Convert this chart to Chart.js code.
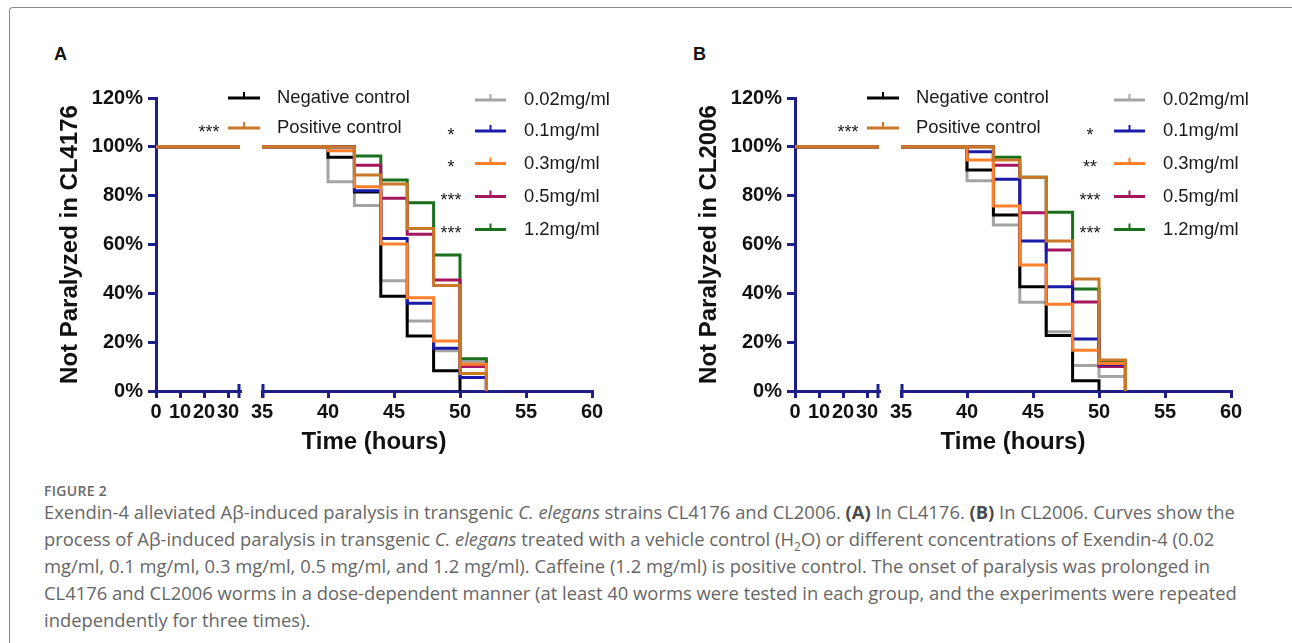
<!DOCTYPE html>
<html>
<head>
<meta charset="utf-8">
<script src="https://cdn.jsdelivr.net/npm/chart.js@4.4.1/dist/chart.umd.min.js"></script>
<style>
  html, body { margin: 0; padding: 0; background: #fff; }
  body { width: 1292px; height: 643px; position: relative; overflow: hidden; font-family: "Liberation Sans", Arial, sans-serif; }
  .frame { position: absolute; left: 9px; top: 7px; width: 1400px; height: 800px; border-left: 1.5px solid #8a8a8a; border-top: 1.5px solid #8a8a8a; border-top-left-radius: 4px; }
  .letter { position: absolute; font: bold 18px "Liberation Sans", Arial, sans-serif; color: #111; line-height: 18px; }
  canvas { position: absolute; }
  .fig { position: absolute; left: 44px; top: 482px; font: 600 14px "Open Sans", sans-serif; color: #6a6a6a; letter-spacing: 0.3px; line-height: 18px; }
  .cap { position: absolute; left: 44px; top: 498px; font: 400 18.4px "Open Sans", sans-serif; color: #666; line-height: 27px; white-space: nowrap; }
  .cap b { font-weight: 700; color: #4a4a4a; }
  .cap sub { font-size: 12px; line-height: 0; }
</style>
</head>
<body>
<div class="frame"></div>
<div class="letter" style="left:54px; top:45px;">A</div>
<div class="letter" style="left:693px; top:45px;">B</div>
<canvas id="cA" width="640" height="400" style="left:0px; top:60px;"></canvas>
<canvas id="cB" width="640" height="400" style="left:639px; top:60px;"></canvas>
<div class="fig">FIGURE 2</div>
<div class="cap">
<div>Exendin-4 alleviated Aβ-induced paralysis in transgenic <i>C. elegans</i> strains CL4176 and CL2006. <b>(A)</b> In CL4176. <b>(B)</b> In CL2006. Curves show the</div>
<div>process of Aβ-induced paralysis in transgenic <i>C. elegans</i> treated with a vehicle control (H<sub>2</sub>O) or different concentrations of Exendin-4 (0.02</div>
<div>mg/ml, 0.1 mg/ml, 0.3 mg/ml, 0.5 mg/ml, and 1.2 mg/ml). Caffeine (1.2 mg/ml) is positive control. The onset of paralysis was prolonged in</div>
<div>CL4176 and CL2006 worms in a dose-dependent manner (at least 40 worms were tested in each group, and the experiments were repeated</div>
<div>independently for three times).</div>
</div>
<script>
// ---------------- DATA ----------------
const seriesNames = ['Negative control', 'Positive control', '0.02mg/ml', '0.1mg/ml', '0.3mg/ml', '0.5mg/ml', '1.2mg/ml'];
const sigA = ['', '***', '', '*', '*', '***', '***'];
const sigB = ['', '***', '', '*', '**', '***', '***'];

// observation times (hours) where the curves step
const stepTimes = [40, 42, 44, 46, 48, 50, 52];
const startLevel = 100;           // % not paralyzed before the first event

// axis break: first segment 0–35 h, second segment 35–60 h
const seg1Range = [0, 35];
const seg2Range = [35, 60];
const seg1Ticks = [0, 10, 20, 30];
const seg2Ticks = [35, 40, 45, 50, 55, 60];
const yTicks = [0, 20, 40, 60, 80, 100, 120];
const yRange = [0, 120];

// Panel A (CL4176): % not paralyzed from each step time onwards
const A_neg  = [95.7, 81.5, 38.8, 22.5, 8.3, 0];
const A_pos  = [100, 88.5, 84.8, 66.6, 43.2, 7.2, 0];
const A_002  = [85.7, 76.0, 45.2, 28.7, 16.5, 12.0, 0];
const A_01   = [100, 82.0, 62.5, 35.9, 17.5, 5.5, 0];
const A_03   = [98.4, 83.7, 60.2, 38.2, 20.5, 11.0, 0];
const A_05   = [100, 92.5, 78.9, 64.2, 45.5, 10.0, 0];
const A_12   = [100, 96.2, 86.4, 77.1, 55.7, 13.2, 0];

// Panel B (CL2006)
const B_neg  = [90.5, 72.1, 42.7, 22.7, 4.2, 0];
const B_pos  = [100, 94.6, 87.5, 61.4, 45.9, 12.7, 0];
const B_002  = [86.1, 68.0, 36.3, 24.3, 10.4, 5.9, 0];
const B_01   = [98.0, 86.7, 61.4, 42.7, 21.3, 11.0, 0];
const B_03   = [94.6, 75.8, 51.6, 35.5, 16.7, 11.3, 0];
const B_05   = [100, 92.5, 73.0, 57.7, 36.4, 10.0, 0];
const B_12   = [100, 95.7, 87.5, 73.2, 41.8, 12.0, 0];

// ---------------- STYLE ----------------
const NAVY = '#1e1e88';
const seriesColors = ['#000000', '#c97828', '#a4a4a4', '#1a1aa8', '#ff7f2a', '#a3155e', '#1b6e1b'];
const drawOrder = [5, 0, 6, 2, 1, 3, 4];
const tickFont = { family: '"Liberation Sans", Arial, sans-serif', weight: 'bold', size: 20 };
const titleFont = { family: '"Liberation Sans", Arial, sans-serif', weight: 'bold', size: 24 };
const legendLayout = {
  left:  { stars: 209, m0: 228, m1: 260, text: 277, rows: [38, 68] },
  right: { stars: 451, m0: 475, m1: 506, text: 524, rows: [40, 71, 103.5, 136.5, 169.5] }
};

const breakCaps = {
  id: 'breakCaps',
  afterDraw(chart) {
    const { ctx, chartArea, scales } = chart;
    const yb = chartArea.bottom;
    ctx.save();
    ctx.strokeStyle = NAVY;
    ctx.lineWidth = 3;
    [scales.x0.right - 1, scales.x1.left + 1].forEach(x => {
      ctx.beginPath(); ctx.moveTo(x, yb - 7); ctx.lineTo(x, yb + 7); ctx.stroke();
    });
    ctx.restore();
  }
};

const kmLegend = {
  id: 'kmLegend',
  afterDraw(chart, args, opts) {
    const ctx = chart.ctx;
    ctx.save();
    seriesNames.forEach((name, i) => {
      const col = i < 2 ? legendLayout.left : legendLayout.right;
      const y = col.rows[i < 2 ? i : i - 2];
      const color = seriesColors[i];
      ctx.strokeStyle = color;
      ctx.lineWidth = 3;
      ctx.beginPath(); ctx.moveTo(col.m0, y); ctx.lineTo(col.m1, y); ctx.stroke();
      const mid = (col.m0 + col.m1) / 2;
      ctx.lineWidth = 2;
      ctx.beginPath(); ctx.moveTo(mid, y); ctx.lineTo(mid, y - 6); ctx.stroke();
      ctx.fillStyle = '#1a1a1a';
      ctx.font = '18.4px "Liberation Sans", Arial, sans-serif';
      ctx.textAlign = 'left';
      ctx.textBaseline = 'middle';
      ctx.fillText(name, col.text, y);
      const s = opts.sig[i];
      if (s) {
        ctx.font = '18px "Liberation Sans", Arial, sans-serif';
        ctx.textAlign = 'center';
        ctx.fillText(s, col.stars, y + 5);
      }
    });
    ctx.restore();
  }
};

function xSeg(range, ticks, weight, stackWeight) {
  return {
    type: 'linear', position: 'bottom', stack: 'time', stackWeight: stackWeight, weight: weight,
    min: range[0], max: range[1],
    afterBuildTicks: s => { s.ticks = ticks.map(v => ({ value: v })); },
    afterFit: s => { s.height = 38; },
    ticks: { autoSkip: false, maxRotation: 0, font: tickFont, color: '#111', padding: 2 },
    grid: { drawOnChartArea: false, drawTicks: true, tickLength: 7, color: NAVY, lineWidth: 3 },
    border: { display: true, color: NAVY, width: 3 }
  };
}

function buildChart(id, vals, yTitle, sig) {
  const datasets = [];
  seriesNames.forEach((name, i) => {
    const v = vals[i];
    datasets.push({
      label: name, xAxisID: 'x1', yAxisID: 'y', borderColor: seriesColors[i], order: drawOrder[i],
      data: [{ x: seg2Range[0], y: startLevel }].concat(v.map((val, k) => ({ x: stepTimes[k], y: val })))
    });
    datasets.push({
      label: name + ' (early)', xAxisID: 'x0', yAxisID: 'y', borderColor: seriesColors[i], order: drawOrder[i],
      data: [{ x: seg1Range[0], y: startLevel }, { x: seg1Range[1], y: startLevel }]
    });
  });
  return new Chart(document.getElementById(id), {
    type: 'line',
    data: { datasets },
    plugins: [breakCaps, kmLegend],
    options: {
      responsive: false, animation: false, devicePixelRatio: 1,
      layout: { padding: { left: 52, right: 48, top: 38, bottom: 0 } },
      elements: { point: { radius: 0 }, line: { borderWidth: 3, stepped: true, tension: 0, fill: false } },
      plugins: { legend: { display: false }, tooltip: { enabled: false }, kmLegend: { sig } },
      scales: {
        y: {
          type: 'linear', position: 'left', min: yRange[0], max: yRange[1],
          afterBuildTicks: s => { s.ticks = yTicks.map(v => ({ value: v })); },
          afterFit: s => { s.width = 104; },
          ticks: { callback: v => v + '%', font: tickFont, color: '#111', padding: 5 },
          grid: { drawOnChartArea: false, tickLength: 8, color: NAVY, lineWidth: 3 },
          border: { color: NAVY, width: 3 },
          title: { display: true, text: yTitle, font: titleFont, color: '#111', padding: { top: 4, bottom: 0 } }
        },
        x0: xSeg(seg1Range, seg1Ticks, 1, 84),
        xg: {
          type: 'linear', position: 'bottom', stack: 'time', stackWeight: 22, weight: 2, min: 0, max: 1,
          ticks: { display: false }, grid: { display: false }, border: { display: false }
        },
        x1: xSeg(seg2Range, seg2Ticks, 3, 330),
        xt: {
          type: 'linear', position: 'bottom', weight: 10, min: 0, max: 1,
          afterFit: s => { s.height = 31; },
          ticks: { display: false }, grid: { display: false }, border: { display: false },
          title: { display: true, text: 'Time (hours)', font: titleFont, color: '#111', padding: { top: 0, bottom: 3 } }
        }
      }
    }
  });
}

buildChart('cA', [A_neg, A_pos, A_002, A_01, A_03, A_05, A_12], 'Not Paralyzed in CL4176', sigA);
buildChart('cB', [B_neg, B_pos, B_002, B_01, B_03, B_05, B_12], 'Not Paralyzed in CL2006', sigB);
</script>
</body>
</html>
